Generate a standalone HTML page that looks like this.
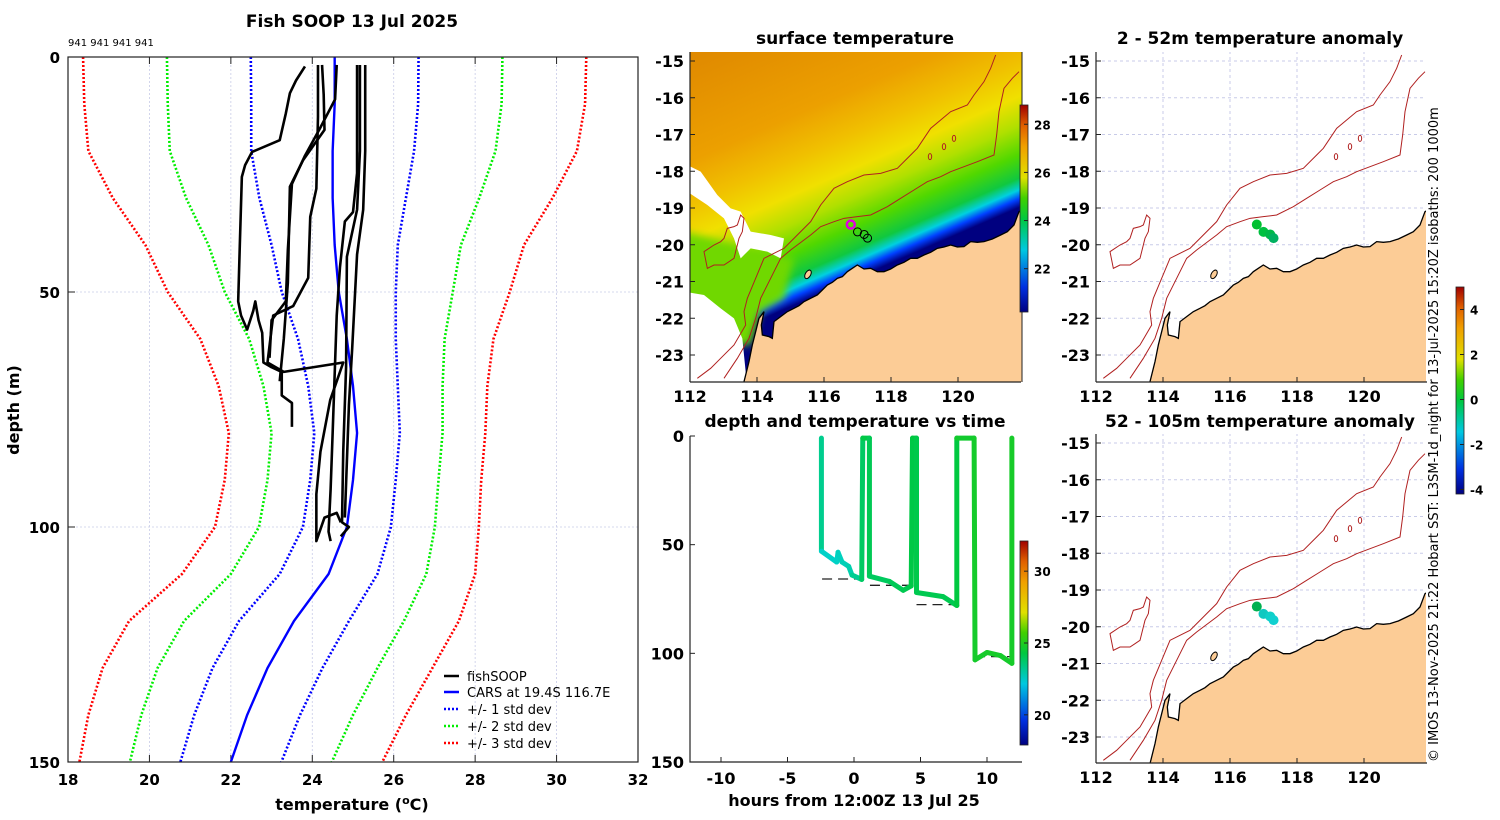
<!DOCTYPE html>
<html><head><meta charset="utf-8">
<style>
html,body{margin:0;padding:0;background:#fff;}
svg{display:block;font-family:"DejaVu Sans","Liberation Sans",sans-serif;}
.b{font-weight:bold;}
</style></head>
<body>
<svg id="fig" width="1500" height="820" viewBox="0 0 1500 820" xmlns="http://www.w3.org/2000/svg">
<defs>
<linearGradient id="cmapV" x1="0" y1="1" x2="0" y2="0">
<stop offset="0" stop-color="#000080"/><stop offset="0.12" stop-color="#0030e0"/><stop offset="0.3" stop-color="#00c8e0"/><stop offset="0.45" stop-color="#00c840"/><stop offset="0.55" stop-color="#40d000"/><stop offset="0.65" stop-color="#e0e000"/><stop offset="0.8" stop-color="#f0a000"/><stop offset="0.9" stop-color="#e06000"/><stop offset="1" stop-color="#a00000"/>
</linearGradient>
<linearGradient id="sstGrad" gradientUnits="userSpaceOnUse" x1="700" y1="620" x2="380" y2="-116">
<stop offset="0" stop-color="#000080"/><stop offset="0.03" stop-color="#0040ff"/><stop offset="0.06" stop-color="#00d0e0"/><stop offset="0.1" stop-color="#10c840"/><stop offset="0.18" stop-color="#50d800"/><stop offset="0.28" stop-color="#b0e000"/><stop offset="0.38" stop-color="#f0e000"/><stop offset="0.5" stop-color="#f0c000"/><stop offset="0.65" stop-color="#eca000"/><stop offset="1" stop-color="#e08a00"/>
</linearGradient>
<filter id="soft"><feGaussianBlur stdDeviation="12"/></filter>
<clipPath id="clipSST"><rect x="690" y="52" width="332" height="330"/></clipPath>
<clipPath id="clipR1"><rect x="1096" y="52" width="330" height="330"/></clipPath>
<clipPath id="clipR2"><rect x="1096" y="434" width="330" height="329"/></clipPath>
</defs>

<text x="352" y="27" text-anchor="middle" class="b" font-size="17">Fish SOOP 13 Jul 2025</text>
<text x="68" y="46" font-size="10">941 941 941 941</text>
<text x="352" y="810" text-anchor="middle" class="b" font-size="16">temperature (<tspan font-size="11" dy="-6">o</tspan><tspan dy="6">C)</tspan></text>
<text transform="translate(19,410) rotate(-90)" text-anchor="middle" class="b" font-size="16">depth (m)</text>
<g id="leftPlot"></g>

<g font-size="13">
<line x1="444" y1="676" x2="459" y2="676" stroke="#000" stroke-width="2.5"/>
<text x="467" y="681">fishSOOP</text>
<line x1="444" y1="692" x2="459" y2="692" stroke="#0000ff" stroke-width="2.5"/>
<text x="467" y="697">CARS at 19.4S 116.7E</text>
<line x1="444" y1="709" x2="459" y2="709" stroke="#0000ff" stroke-width="2.5" stroke-dasharray="2,2"/>
<text x="467" y="714">+/- 1 std dev</text>
<line x1="444" y1="726" x2="459" y2="726" stroke="#00ee00" stroke-width="2.5" stroke-dasharray="2,2"/>
<text x="467" y="731">+/- 2 std dev</text>
<line x1="444" y1="743" x2="459" y2="743" stroke="#ff0000" stroke-width="2.5" stroke-dasharray="2,2"/>
<text x="467" y="748">+/- 3 std dev</text>
</g>

<text x="855" y="44" text-anchor="middle" class="b" font-size="17">surface temperature</text>
<text x="1260" y="44" text-anchor="middle" class="b" font-size="17">2 - 52m temperature anomaly</text>
<text x="855" y="427" text-anchor="middle" class="b" font-size="17">depth and temperature vs time</text>
<text x="1260" y="427" text-anchor="middle" class="b" font-size="17">52 - 105m temperature anomaly</text>
<text x="854" y="806" text-anchor="middle" class="b" font-size="16">hours from 12:00Z 13 Jul 25</text>

<g id="maps"></g>
<g id="dtPlot"></g>

<rect x="1020" y="105" width="8" height="207" fill="url(#cmapV)" stroke="#222" stroke-width="0.8"/>
<rect x="1020" y="541" width="8" height="204" fill="url(#cmapV)" stroke="#222" stroke-width="0.8"/>
<rect x="1456" y="287" width="8" height="207" fill="url(#cmapV)" stroke="#222" stroke-width="0.8"/>
<g id="cbticks" class="b" font-size="12"></g>

<text transform="translate(1438,762) rotate(-90)" font-size="13">© IMOS 13-Nov-2025 21:22 Hobart SST: L3SM-1d_night for 13-Jul-2025 15:20Z isobaths: 200  1000m</text>
</svg>

<script>
const carsDepth = [0,10,20,30,40,50,60,70,80,90,100,110,120,130,140,150];
const carsMean  = [24.55,24.55,24.5,24.5,24.55,24.65,24.85,25.0,25.1,25.0,24.85,24.4,23.55,22.9,22.4,22.0];
const carsStd   = [2.06,2.05,2.0,1.8,1.55,1.4,1.2,1.1,1.05,1.05,1.08,1.2,1.35,1.35,1.3,1.24];
const xTicks = [18,20,22,24,26,28,30,32];
const yTicks = [0,50,100,150];
const profATemp = [23.82,23.6,23.45,23.35,23.2,22.52,22.35,22.27,22.22,22.18,22.25,22.4,22.55,22.6,22.68,22.77,22.8,23.0,23.25,23.25,23.5,23.5];
const profADepth= [2,5,7.7,12,17.7,20.2,23,25.5,40,52,55,58,54,52,56,58.7,65,66,67,72,73.6,78.7];
const profBTemp = [24.14,24.14,24.1,23.95,23.9,23.53,23.04,22.9,23.3,24.76,24.44,24.2,24.1,24.1,24.3,24.6,24.7];
const profBDepth= [1.7,12.7,28,34,47,53,55,65,67,65,73,84,93,103,98,97,99];
const profCTemp = [24.24,24.28,24.3,23.77,23.45,23.4,23.3,23.2];
const profCDepth= [1.7,8,15.5,22,27.6,48,60,69];
const profDTemp = [24.6,24.56,24.2,23.82,23.5,23.4,23.35,23.0,22.95];
const profDDepth= [1.7,9,15,21,27,41,52,56,64];
const profFTemp = [25.1,25.1,25.0,24.8,24.68,24.6,24.56,24.5,24.45,24.4,24.45];
const profFDepth= [1.7,24.7,33,35,44.7,55,65,80,92,101,103];
const profGTemp = [25.17,25.17,25.1,24.85,24.83,24.76,24.73,24.9,24.7];
const profGDepth= [1.7,20,32.5,42.5,66,84,99,100,102];
const profHTemp = [25.3,25.3,25.25,25.1,24.98,24.9,24.8];
const profHDepth= [1.7,20,32.5,42,62,74,98];
const dtHour = [-2.45,-2.45,-1.3,-1.2,-0.9,-0.4,-0.15,0.58,0.66,1.16,1.16,2.66,3.7,4.3,4.4,4.7,4.7,6.7,7.73,7.73,9.03,9.1,10.0,11.0,11.87,11.87];
const dtDepth= [1,53,58,53.5,58,60,64,66,1,1,64.5,66.9,71,69,1,1,72,73.9,78,1,1,103,99.6,101,104.6,1];
const dtTemp = [24.0,22.3,22.3,22.4,22.5,22.6,22.8,23.4,24.2,24.2,23.8,23.9,24.0,24.1,24.3,24.3,24.0,24.1,24.0,24.6,24.8,24.7,24.8,24.8,24.7,24.9];
const bottomStart=[-2.4,1.2,4.7,9.1];
const bottomEnd  =[0.6,4.3,7.7,11.9];
const bottomDepth=[65.8,68.7,77.6,101.5];
const dtXTicks=[-10,-5,0,5,10];
const dtYTicks=[0,50,100,150];
const latTicks=[-15,-16,-17,-18,-19,-20,-21,-22,-23];
const lonTicks=[112,114,116,118,120];
const sstCbTicks=[28,26,24,22];
const dtCbTicks=[30,25,20];
const anCbTicks=[4,2,0,-2,-4];
const dots1Lon=[116.8,117.0,117.2,117.3];
const dots1Lat=[-19.45,-19.65,-19.72,-19.82];
const dots1Col=['#00c030','#00c040','#00b848','#00b060'];
const dots2Col=['#00b050','#10c8c0','#10d0c8','#10d0d0'];

const NS='http://www.w3.org/2000/svg';
function mk(tag,attrs,parent){const e=document.createElementNS(NS,tag);for(const k in attrs)e.setAttribute(k,attrs[k]);parent.appendChild(e);return e;}

const L=document.getElementById('leftPlot');
const tx=T=>68+(T-18)*570/14;
const ty=d=>57+d*705/150;
xTicks.forEach((t,i)=>{
  if(i>0&&i<xTicks.length-1){const g=mk('line',{x1:tx(t),x2:tx(t),y1:57,y2:762,stroke:'#c8cbe8','stroke-width':0.8,'stroke-dasharray':'2,2'},L);
  
  }
  const tk=mk('line',{x1:tx(t),x2:tx(t),y1:57,y2:64,stroke:'#222'},L);
  
  
  const tk2=mk('line',{x1:tx(t),x2:tx(t),y1:755,y2:762,stroke:'#222'},L);
  
  
  const lb=mk('text',{x:tx(t),y:785,'text-anchor':'middle','font-size':15,'font-weight':'bold'},L);lb.textContent=t;
  
  
});
yTicks.forEach((t,i)=>{
  if(i>0&&i<yTicks.length-1){const g=mk('line',{x1:68,x2:638,y1:ty(t),y2:ty(t),stroke:'#c8cbe8','stroke-width':0.8,'stroke-dasharray':'2,2'},L);
  
  }
  const tk=mk('line',{x1:68,x2:75,y1:ty(t),y2:ty(t),stroke:'#222'},L);
  
  
  const lb=mk('text',{x:60,y:ty(t)+6,'text-anchor':'end','font-size':15,'font-weight':'bold'},L);lb.textContent=t;
  
  
});
const stdCols=['#0000ff','#00ee00','#ff0000'];
[1,2,3].forEach(k=>{[-1,1].forEach(s=>{
  const pts=carsDepth.map((d,i)=>tx(carsMean[i]+s*k*carsStd[i])+','+ty(d)).join(' ');
  const p=mk('polyline',{points:pts,fill:'none',stroke:stdCols[k-1],'stroke-width':2.6,'stroke-dasharray':'2,2'},L);
  
  
});});
const cars=mk('polyline',{points:carsDepth.map((d,i)=>tx(carsMean[i])+','+ty(d)).join(' '),fill:'none',stroke:'#0000ff','stroke-width':2.4},L);


[[profATemp,profADepth],[profBTemp,profBDepth],[profCTemp,profCDepth],[profDTemp,profDDepth],[profFTemp,profFDepth],[profGTemp,profGDepth],[profHTemp,profHDepth]].forEach(pr=>{
  const p=mk('polyline',{points:pr[0].map((t,i)=>tx(t)+','+ty(pr[1][i])).join(' '),fill:'none',stroke:'#000','stroke-width':2.6,'stroke-linejoin':'round'},L);
  
  
});
const fr=mk('rect',{x:68,y:57,width:570,height:705,fill:'none',stroke:'#222','stroke-width':1.2},L);



const M=document.getElementById('maps');
const isoOuter="40,1000 80,970 110,940 150,900 185,840 180,800 190,760 215,700 240,640 270,625 300,610 340,570 380,530 410,480 450,430 490,410 540,390 590,385 640,370 680,330 700,310 720,280 740,250 770,225 800,200 850,180 870,150 900,110 920,70 935,30";
const isoInner="120,1000 160,940 195,880 215,820 230,760 260,700 290,640 320,615 340,600 380,570 410,545 450,530 480,520 520,515 560,510 610,485 650,460 690,435 730,410 770,395 800,380 840,365 880,350 930,330 938,270 945,200 960,130 985,100 1005,80";
const bank="70,670 60,620 90,600 110,590 120,580 130,550 150,545 160,540 170,510 180,520 175,560 165,580 160,600 150,640 135,650 120,660 90,660";
const coast="180,1010 195,950 205,900 215,860 225,820 240,800 232,840 235,870 255,875 265,880 268,850 270,830 290,815 310,800 330,790 345,782 360,770 380,760 400,750 415,735 430,720 445,712 460,700 475,695 490,680 505,670 520,660 540,672 560,670 580,680 600,680 620,672 640,660 660,652 680,640 700,640 720,630 740,622 760,610 780,606 800,600 820,606 840,605 860,590 880,592 900,590 925,582 950,570 970,560 990,540 1005,500 1040,480 1040,1030 180,1030";
const lonX=lo=>1096+(lo-112)*33.5;
const latY=la=>61+(-15-la)*36.75;
function drawMap(ox,oy,clip,kind,frameTop,frameBot){
  const g=mk('g',{'clip-path':'url(#'+clip+')'},M);
  
  
  const dx=ox-1096, dy=oy;
  if(kind==='sst'){
    const inner=mk('g',{transform:`translate(${684} ${45+dy}) scale(0.33333)`},g);
    const bg=mk('rect',{x:0,y:0,width:1040,height:1030,fill:'url(#sstGrad)'},inner);
    
    
    const gr=mk('polygon',{points:"0,560 330,640 300,760 230,800 200,900 0,900",fill:'#70d800',filter:'url(#soft)'},inner);
    
    
    const w1=mk('polygon',{points:"10,360 50,380 100,450 140,490 170,500 200,560 260,570 300,580 290,640 250,620 200,610 170,640 150,580 120,520 70,480 10,440",fill:'#fff'},inner);
    
    
    const w2=mk('polygon',{points:"0,740 60,750 110,790 150,820 175,880 190,1030 0,1030",fill:'#fff'},inner);
    
    
  }
  const t=mk('g',{transform:`translate(${1090+dx} ${45+dy}) scale(0.33333)`},g);
  if(kind!=='sst'){
    lonTicks.forEach(lo=>{const l=mk('line',{x1:(lonX(lo)-1090)*3,x2:(lonX(lo)-1090)*3,y1:0,y2:1100,stroke:'#c8cbe8','stroke-width':1,'stroke-dasharray':'3,3','vector-effect':'non-scaling-stroke'},t);
      
      });
    latTicks.forEach(la=>{const l=mk('line',{x1:0,x2:1100,y1:(latY(la)-45)*3,y2:(latY(la)-45)*3,stroke:'#c8cbe8','stroke-width':1,'stroke-dasharray':'3,3','vector-effect':'non-scaling-stroke'},t);
      
      });
  }
  const land=mk('polygon',{points:coast,fill:'#fccc96',stroke:'#000','stroke-width':1.3,'vector-effect':'non-scaling-stroke'},t);
  
  
  const is=mk('ellipse',{cx:372,cy:688,rx:8,ry:14,fill:'#fccc96',stroke:'#000','stroke-width':1,'vector-effect':'non-scaling-stroke',transform:'rotate(30 372 688)'},t);
  
  
  [isoOuter,isoInner].forEach(pts=>{const p=mk('polyline',{points:pts,fill:'none',stroke:'#b02020','stroke-width':1,'vector-effect':'non-scaling-stroke'},t);
    
    });
  const bk=mk('polygon',{points:bank,fill:'none',stroke:'#b02020','stroke-width':1,'vector-effect':'non-scaling-stroke'},t);
  
  
  [[738,335],[780,305],[810,280]].forEach(c=>{const e=mk('ellipse',{cx:c[0],cy:c[1],rx:5,ry:9,fill:'none',stroke:'#b02020','stroke-width':1,'vector-effect':'non-scaling-stroke'},t);
    
    });
  dots1Lon.forEach((lo,i)=>{
    const cx=lonX(lo)+dx, cy=latY(dots1Lat[i])+dy;
    if(kind==='sst'){
      const c=mk('circle',{cx:cx,cy:cy,r:4,fill:'none',stroke:i===0?'#e000e0':'#000','stroke-width':i===0?2.5:1},M);
      
      
    } else {
      const c=mk('circle',{cx:cx,cy:cy,r:5,fill:(kind==='an1'?dots1Col:dots2Col)[i]},M);
      
      
    }
  });
  const ax=mk('line',{x1:ox,x2:ox,y1:frameTop,y2:frameBot,stroke:'#222','stroke-width':1.2},M);
  
  
  const bx=mk('line',{x1:ox,x2:ox+331,y1:frameBot,y2:frameBot,stroke:'#222','stroke-width':1.2},M);
  
  
  lonTicks.forEach(lo=>{const x=lonX(lo)+dx;
    const tk=mk('line',{x1:x,x2:x,y1:frameBot,y2:frameBot-5,stroke:'#222'},M);
    
    
    const lb=mk('text',{x:x,y:frameBot+20,'text-anchor':'middle','font-size':16,'font-weight':'bold'},M);lb.textContent=lo;
    
    });
  latTicks.forEach(la=>{const y=latY(la)+dy;
    const tk=mk('line',{x1:ox,x2:ox+5,y1:y,y2:y,stroke:'#222'},M);
    
    
    const lb=mk('text',{x:ox-6,y:y+6,'text-anchor':'end','font-size':16,'font-weight':'bold'},M);lb.textContent=la;
    
    });
}
drawMap(690,0,'clipSST','sst',52,382);
drawMap(1096,0,'clipR1','an1',52,382);
drawMap(1096,382,'clipR2','an2',434,763);
const sr=mk('line',{x1:1022,x2:1022,y1:52,y2:382,stroke:'#222','stroke-width':1},M);



const D=document.getElementById('dtPlot');
const hx=h=>854+h*13.3;
const dyy=d=>436+d*326/150;
const cmStops=[[0,[0,0,128]],[0.12,[0,48,224]],[0.3,[0,210,210]],[0.45,[0,200,64]],[0.55,[64,208,0]],[0.65,[224,224,0]],[0.8,[240,160,0]],[0.9,[224,96,0]],[1,[160,0,0]]];
function cmap(f){f=Math.max(0,Math.min(1,f));for(let i=1;i<cmStops.length;i++){if(f<=cmStops[i][0]){const a=cmStops[i-1],b=cmStops[i];const u=(f-a[0])/(b[0]-a[0]);const c=a[1].map((v,k)=>Math.round(v+(b[1][k]-v)*u));return 'rgb('+c.join(',')+')';}}return 'rgb(160,0,0)';}
bottomStart.forEach((s,i)=>{const l=mk('line',{x1:hx(s),x2:hx(bottomEnd[i]),y1:dyy(bottomDepth[i]),y2:dyy(bottomDepth[i]),stroke:'#222','stroke-width':1.3,'stroke-dasharray':'10,6'},D);
  
  });
for(let i=0;i<dtHour.length-1;i++){
  const tm=(dtTemp[i]+dtTemp[i+1])/2;
  const l=mk('line',{x1:hx(dtHour[i]),y1:dyy(dtDepth[i]),x2:hx(dtHour[i+1]),y2:dyy(dtDepth[i+1]),stroke:cmap((tm-17.9)/14.2),'stroke-width':5,'stroke-linecap':'round'},D);
  
  
}
const dax=mk('polyline',{points:'690,436 690,762 1022,762',fill:'none',stroke:'#222','stroke-width':1.2},D);


dtXTicks.forEach(h=>{const tk=mk('line',{x1:hx(h),x2:hx(h),y1:762,y2:757,stroke:'#222'},D);
  
  
  const lb=mk('text',{x:hx(h),y:784,'text-anchor':'middle','font-size':16,'font-weight':'bold'},D);lb.textContent=h;
  
  });
dtYTicks.forEach(d=>{const tk=mk('line',{x1:690,x2:695,y1:dyy(d),y2:dyy(d),stroke:'#222'},D);
  
  
  const lb=mk('text',{x:684,y:dyy(d)+6,'text-anchor':'end','font-size':16,'font-weight':'bold'},D);lb.textContent=d;
  
  });

const C=document.getElementById('cbticks');
function cbt(arr,x,top,h,vmin,vmax,nm){arr.forEach(v=>{const y=top+h*(vmax-v)/(vmax-vmin);
  const tk=mk('line',{x1:x+4,x2:x+8,y1:y,y2:y,stroke:'#222'},C);
  
  
  const lb=mk('text',{x:x+14,y:y+5},C);lb.textContent=v;
  
  });}
cbt(sstCbTicks,1020,105,207,20.2,28.8,'sst-colorbar');
cbt(dtCbTicks,1020,541,204,17.9,32.1,'depth-time-colorbar');
cbt(anCbTicks,1456,287,207,-4.2,5.0,'anomaly-colorbar');
</script>
</body></html>
